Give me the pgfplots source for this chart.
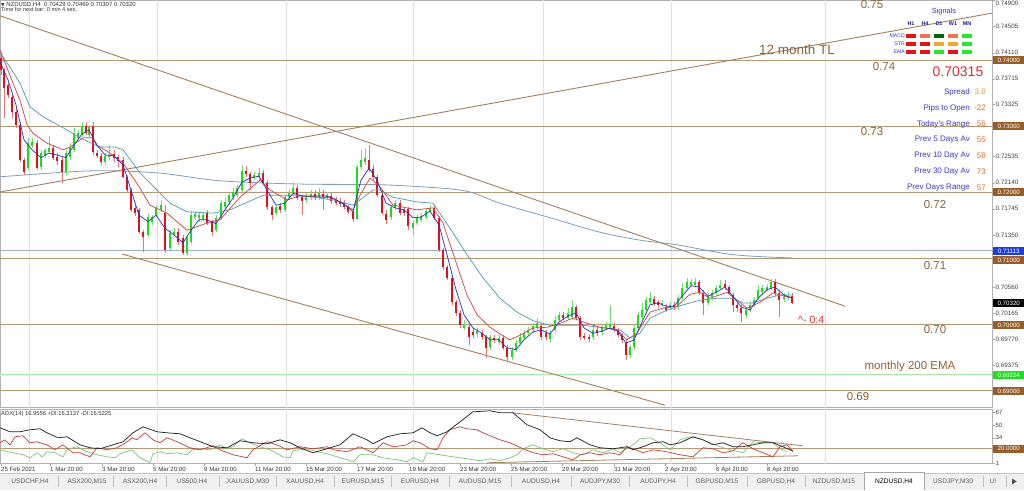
\documentclass[border=0pt]{standalone}
\usepackage{fontspec}
\setmainfont{Liberation Sans}
\newfontfamily\symfont{DejaVu Sans}
\usepackage{pgfplots}
\usepackage{pgfplotstable}
\pgfplotsset{compat=1.18}

\definecolor{bullc}{RGB}{25,222,25}
\definecolor{bearc}{RGB}{222,18,30}
\definecolor{bullw}{RGB}{120,220,120}
\definecolor{bearw}{RGB}{220,120,120}
\definecolor{tanl}{RGB}{182,152,118}
\definecolor{trendl}{RGB}{165,128,92}
\definecolor{lblbrown}{RGB}{140,98,58}
\definecolor{maRed}{RGB}{214,72,72}
\definecolor{maBlue}{RGB}{45,45,205}
\definecolor{maTeal}{RGB}{80,160,178}
\definecolor{maSlow}{RGB}{125,160,188}
\definecolor{gridc}{RGB}{226,226,226}
\definecolor{hblue}{RGB}{160,175,198}
\definecolor{infoBlue}{RGB}{58,58,200}
\definecolor{infoOrange}{RGB}{228,105,45}
\definecolor{infoGold}{RGB}{222,172,50}
\definecolor{infoRed}{RGB}{220,45,55}
\definecolor{boxBrown}{RGB}{150,92,42}
\definecolor{boxBlue}{RGB}{30,60,225}
\definecolor{boxGreen}{RGB}{30,225,30}
\definecolor{sigRed}{RGB}{228,20,20}
\definecolor{sigSalmon}{RGB}{240,115,80}
\definecolor{sigDark}{RGB}{0,105,0}
\definecolor{sigLime}{RGB}{40,230,40}
\definecolor{sigGold}{RGB}{240,170,40}
\definecolor{navy}{RGB}{25,25,140}
\definecolor{tabbg}{RGB}{240,240,240}
\definecolor{tabtxt}{RGB}{95,95,95}
\definecolor{adxRed}{RGB}{200,60,60}
\definecolor{adxGreen}{RGB}{120,200,120}
\definecolor{emaGreen}{RGB}{170,230,170}

\pgfplotstableread{
x o h l c
28 0.7236 0.7282 0.7233 0.7274
32 0.7270 0.7282 0.7267 0.7276
41 0.7238 0.7264 0.7233 0.7259
45 0.7256 0.7267 0.7252 0.7264
49 0.7261 0.7285 0.7258 0.7267
66 0.7230 0.7264 0.7226 0.7259
70 0.7253 0.7274 0.7248 0.7268
74 0.7264 0.7297 0.7261 0.7289
78 0.7282 0.7294 0.7279 0.7289
82 0.7286 0.7306 0.7283 0.7300
89 0.7286 0.7302 0.7283 0.7298
105 0.7245 0.7259 0.7241 0.7255
109 0.7253 0.7271 0.7248 0.7256
148 0.7135 0.7168 0.7132 0.7162
152 0.7155 0.7165 0.7150 0.7162
156 0.7165 0.7180 0.7162 0.7176
161 0.7173 0.7188 0.7170 0.7180
170 0.7115 0.7142 0.7112 0.7138
174 0.7136 0.7145 0.7133 0.7139
187 0.7108 0.7135 0.7105 0.7132
191 0.7124 0.7171 0.7121 0.7165
195 0.7162 0.7171 0.7158 0.7167
199 0.7161 0.7170 0.7155 0.7165
203 0.7159 0.7170 0.7155 0.7165
216 0.7142 0.7165 0.7139 0.7161
221 0.7161 0.7188 0.7158 0.7183
225 0.7177 0.7191 0.7173 0.7185
229 0.7185 0.7200 0.7180 0.7195
233 0.7192 0.7206 0.7188 0.7200
237 0.7195 0.7211 0.7192 0.7206
242 0.7203 0.7241 0.7200 0.7232
254 0.7221 0.7230 0.7218 0.7226
259 0.7223 0.7236 0.7218 0.7229
276 0.7168 0.7180 0.7165 0.7177
285 0.7173 0.7195 0.7170 0.7192
289 0.7192 0.7203 0.7188 0.7198
293 0.7198 0.7215 0.7195 0.7206
306 0.7188 0.7198 0.7183 0.7192
311 0.7192 0.7203 0.7188 0.7197
319 0.7192 0.7206 0.7188 0.7198
327 0.7192 0.7200 0.7188 0.7195
357 0.7159 0.7241 0.7158 0.7238
361 0.7238 0.7264 0.7233 0.7248
365 0.7245 0.7267 0.7241 0.7252
391 0.7162 0.7180 0.7158 0.7177
395 0.7176 0.7188 0.7173 0.7183
413 0.7145 0.7158 0.7135 0.7153
417 0.7153 0.7165 0.7150 0.7161
421 0.7158 0.7168 0.7155 0.7164
426 0.7162 0.7176 0.7159 0.7171
430 0.7171 0.7180 0.7168 0.7176
464 0.6994 0.7006 0.6991 0.6998
477 0.6985 0.6994 0.6980 0.6989
490 0.6965 0.6983 0.6961 0.6980
499 0.6973 0.6983 0.6968 0.6979
512 0.6950 0.6965 0.6945 0.6961
516 0.6961 0.6976 0.6958 0.6971
520 0.6971 0.6986 0.6968 0.6980
524 0.6979 0.6991 0.6976 0.6986
528 0.6986 0.6995 0.6983 0.6991
533 0.6991 0.7001 0.6986 0.6997
537 0.6994 0.7009 0.6991 0.7001
550 0.6977 0.6991 0.6973 0.6986
555 0.6991 0.7012 0.6988 0.7006
559 0.7006 0.7018 0.7003 0.7014
568 0.7009 0.7024 0.7006 0.7017
572 0.7011 0.7036 0.7006 0.7026
593 0.6980 0.6995 0.6976 0.6991
602 0.6988 0.6998 0.6983 0.6994
606 0.6994 0.7003 0.6991 0.6998
610 0.6995 0.7029 0.6992 0.7000
630 0.6953 0.6968 0.6948 0.6965
634 0.6965 0.6998 0.6961 0.6994
638 0.6994 0.7018 0.6991 0.7014
642 0.7011 0.7032 0.7006 0.7021
646 0.7021 0.7041 0.7018 0.7036
650 0.7033 0.7048 0.7030 0.7039
662 0.7029 0.7036 0.7026 0.7032
670 0.7024 0.7033 0.7021 0.7029
678 0.7026 0.7044 0.7021 0.7039
682 0.7039 0.7062 0.7036 0.7055
687 0.7055 0.7070 0.7052 0.7064
691 0.7059 0.7068 0.7056 0.7064
695 0.7059 0.7070 0.7056 0.7064
708 0.7032 0.7047 0.7029 0.7041
712 0.7041 0.7052 0.7036 0.7047
716 0.7047 0.7059 0.7044 0.7055
720 0.7055 0.7067 0.7052 0.7059
746 0.7014 0.7026 0.7009 0.7021
750 0.7021 0.7033 0.7018 0.7029
754 0.7029 0.7041 0.7026 0.7036
758 0.7039 0.7059 0.7036 0.7052
762 0.7048 0.7059 0.7044 0.7055
767 0.7052 0.7061 0.7048 0.7056
771 0.7055 0.7068 0.7052 0.7064
784 0.7038 0.7047 0.7033 0.7041
788 0.7039 0.7048 0.7036 0.7042
}\bull

\pgfplotstableread{
x o h l c
1 0.7403 0.7408 0.7377 0.7385
4 0.7385 0.7388 0.7312 0.7358
8 0.7362 0.7367 0.7342 0.7347
12 0.7344 0.7347 0.7312 0.7321
16 0.7321 0.7327 0.7297 0.7302
20 0.7302 0.7306 0.7245 0.7248
24 0.7248 0.7252 0.7226 0.7230
37 0.7274 0.7279 0.7233 0.7236
53 0.7267 0.7271 0.7248 0.7252
57 0.7253 0.7259 0.7241 0.7247
62 0.7248 0.7253 0.7214 0.7230
86 0.7300 0.7306 0.7286 0.7289
93 0.7300 0.7306 0.7256 0.7261
97 0.7259 0.7264 0.7252 0.7255
101 0.7255 0.7259 0.7241 0.7245
114 0.7258 0.7264 0.7245 0.7252
118 0.7253 0.7256 0.7238 0.7247
123 0.7248 0.7253 0.7221 0.7223
127 0.7223 0.7226 0.7198 0.7203
131 0.7203 0.7206 0.7170 0.7173
135 0.7176 0.7180 0.7164 0.7168
139 0.7173 0.7176 0.7136 0.7139
143 0.7139 0.7142 0.7109 0.7132
165 0.7168 0.7180 0.7108 0.7112
178 0.7139 0.7145 0.7120 0.7124
183 0.7130 0.7135 0.7105 0.7108
207 0.7168 0.7173 0.7150 0.7153
212 0.7155 0.7158 0.7133 0.7139
246 0.7232 0.7239 0.7223 0.7227
250 0.7227 0.7230 0.7203 0.7214
263 0.7229 0.7233 0.7211 0.7214
267 0.7214 0.7218 0.7173 0.7177
272 0.7177 0.7180 0.7158 0.7165
280 0.7179 0.7183 0.7168 0.7173
297 0.7206 0.7211 0.7188 0.7191
302 0.7192 0.7195 0.7165 0.7186
315 0.7197 0.7203 0.7188 0.7192
323 0.7197 0.7203 0.7173 0.7192
331 0.7194 0.7198 0.7182 0.7186
336 0.7188 0.7192 0.7180 0.7183
340 0.7186 0.7191 0.7177 0.7182
344 0.7183 0.7188 0.7174 0.7177
348 0.7177 0.7180 0.7167 0.7170
353 0.7170 0.7173 0.7155 0.7159
369 0.7248 0.7271 0.7230 0.7233
373 0.7235 0.7241 0.7218 0.7223
377 0.7223 0.7226 0.7192 0.7195
382 0.7195 0.7198 0.7165 0.7168
386 0.7167 0.7173 0.7152 0.7158
400 0.7183 0.7188 0.7165 0.7168
404 0.7173 0.7177 0.7164 0.7168
408 0.7174 0.7177 0.7142 0.7148
434 0.7176 0.7180 0.7158 0.7161
439 0.7161 0.7164 0.7109 0.7112
443 0.7112 0.7115 0.7082 0.7086
447 0.7086 0.7089 0.7067 0.7070
452 0.7070 0.7073 0.7029 0.7033
456 0.7033 0.7036 0.7012 0.7017
460 0.7017 0.7021 0.6994 0.6998
469 0.6995 0.7001 0.6968 0.6980
473 0.6988 0.6994 0.6979 0.6983
482 0.6986 0.6991 0.6976 0.6980
486 0.6980 0.6983 0.6948 0.6964
494 0.6979 0.6983 0.6971 0.6976
503 0.6979 0.6983 0.6961 0.6964
507 0.6964 0.6968 0.6942 0.6950
541 0.6997 0.7001 0.6976 0.6980
546 0.6986 0.6991 0.6976 0.6980
563 0.7014 0.7018 0.7006 0.7009
576 0.7026 0.7029 0.7006 0.7009
580 0.7009 0.7012 0.6976 0.6980
584 0.6982 0.6986 0.6976 0.6979
589 0.6980 0.6983 0.6973 0.6977
597 0.6991 0.6995 0.6982 0.6986
614 0.6997 0.7001 0.6988 0.6991
618 0.6991 0.6994 0.6979 0.6983
622 0.6983 0.6986 0.6971 0.6976
626 0.6971 0.6976 0.6945 0.6953
654 0.7038 0.7042 0.7027 0.7030
658 0.7033 0.7036 0.7024 0.7029
666 0.7026 0.7030 0.7018 0.7021
674 0.7029 0.7033 0.7021 0.7026
699 0.7064 0.7067 0.7044 0.7047
703 0.7047 0.7052 0.7014 0.7032
725 0.7061 0.7067 0.7052 0.7056
729 0.7056 0.7059 0.7044 0.7047
733 0.7044 0.7047 0.7018 0.7029
737 0.7029 0.7033 0.7018 0.7024
741 0.7024 0.7029 0.7003 0.7017
775 0.7064 0.7068 0.7042 0.7047
779 0.7047 0.7052 0.7011 0.7036
792 0.70429 0.70469 0.70307 0.70320
}\bear

\tikzset{pbox/.style={anchor=west, inner xsep=1.5pt, inner ysep=0pt, minimum height=8pt, minimum width=31pt, font=\fontsize{6.2}{7}\selectfont, text=white}}

\begin{document}
\begin{tikzpicture}
\begin{scope}[x=1pt,y=1pt]
\fill[white] (0,0) rectangle (1024,490);
\fill[tabbg] (0,0) rectangle (1024,17);
\draw[gray!45] (0,17) -- (1024,17);
\end{scope}

% ---------------- main price panel ----------------
\begin{axis}[
  at={(0pt,83pt)}, anchor=south west,
  width=992pt, height=407pt, scale only axis,
  xmin=0, xmax=992, ymin=0.687424, ymax=0.749091,
  axis line style={draw=gray!60, line width=0.5pt},
  xtick=\empty,
  ytick={0.74505,0.7411,0.73715,0.73325,0.72535,0.7214,0.71745,0.7135,0.7056,0.70165,0.6977,0.69375},
  yticklabels={0.74505,0.74110,0.73715,0.73325,0.72535,0.72140,0.71745,0.71350,0.70560,0.70165,0.69770,0.69375},
  extra y ticks={0.749}, extra y tick labels={0.74900},
  extra y tick style={yticklabel style={yshift=-2.5pt}},
  ytick pos=right, yticklabel pos=right,
  tick align=outside, major tick length=2.5pt,
  tick style={draw=gray!70, line width=0.4pt},
  yticklabel style={font=\fontsize{6.3}{7}\selectfont, text=black!75, inner xsep=1pt},
  scaled y ticks=false,
]
\pgfplotsinvokeforeach{29,157,286,413,543,671,825}{
  \addplot[gridc, line width=0.6pt, forget plot] coordinates {(#1,0.68) (#1,0.76)};
}
\pgfplotsinvokeforeach{0.74,0.73,0.72,0.71,0.70,0.69}{
  \addplot[tanl, line width=0.9pt, forget plot] coordinates {(0,#1) (992,#1)};
}
\addplot[hblue, line width=0.55pt] coordinates {(0,0.71113) (992,0.71113)};
\addplot[emaGreen, double=green!6, double distance=1.1pt, line width=0.5pt] coordinates {(0,0.69224) (992,0.69224)};

% slow moving average
\addplot[maSlow, line width=0.8pt, smooth, tension=0.5] coordinates {
(0,0.7223)(90,0.7232)(157,0.7229)(220,0.7217)(300,0.7212)(380,0.7211)(440,0.7206)(470,0.7200)(500,0.7183)(550,0.7161)(600,0.7139)(640,0.7127)(677,0.7120)(733,0.7105)(793,0.7100)};

% trend lines
\addplot[trendl, line width=0.9pt] coordinates {(0,0.7467)(845,0.7027)};
\addplot[trendl, line width=0.9pt] coordinates {(0,0.7200)(992,0.7471)};
\addplot[trendl, line width=0.9pt] coordinates {(122,0.7106)(665,0.6877)};

% candles: wicks
\addplot[draw=none, mark=none, forget plot, error bars/.cd, y dir=plus, y explicit, error mark=none,
  error bar style={draw=bullw, line width=0.9pt}]
  table[x=x, y=l, y error expr=\thisrow{h}-\thisrow{l}] {\bull};
\addplot[draw=none, mark=none, forget plot, error bars/.cd, y dir=plus, y explicit, error mark=none,
  error bar style={draw=bearw, line width=0.9pt}]
  table[x=x, y=l, y error expr=\thisrow{h}-\thisrow{l}] {\bear};
% candles: bodies
\addplot[draw=none, mark=none, forget plot, error bars/.cd, y dir=plus, y explicit, error mark=none,
  error bar style={draw=bullc, line width=2.8pt}]
  table[x=x, y=o, y error expr=\thisrow{c}-\thisrow{o}] {\bull};
\addplot[draw=none, mark=none, forget plot, error bars/.cd, y dir=plus, y explicit, error mark=none,
  error bar style={draw=bearc, line width=2.8pt}]
  table[x=x, y=c, y error expr=\thisrow{o}-\thisrow{c}] {\bear};

% medium MA (teal)
\addplot[maTeal, line width=0.75pt] coordinates {
(0,0.7411)(10,0.7389)(20,0.7365)(30,0.7329)(43,0.7314)(67,0.7294)(80,0.7282)(100,0.7268)(115,0.7268)(123,0.7264)(140,0.7229)(157,0.7203)(170,0.7183)(187,0.7170)(213,0.7168)(230,0.7173)(263,0.7195)(300,0.7195)(333,0.7188)(353,0.7180)(360,0.7188)(373,0.7203)(380,0.7203)(393,0.7192)(417,0.7185)(433,0.7183)(450,0.7145)(467,0.7105)(483,0.7070)(500,0.7039)(517,0.7018)(533,0.7005)(550,0.6998)(567,0.6998)(583,0.6998)(600,0.6995)(620,0.6991)(630,0.6979)(640,0.6986)(650,0.7009)(667,0.7021)(683,0.7029)(700,0.7036)(717,0.7039)(733,0.7039)(743,0.7032)(753,0.7032)(767,0.7039)(780,0.7044)(793,0.7044)};
% red MA
\addplot[maRed, line width=0.75pt] coordinates {
(0,0.7415)(13,0.7365)(20,0.7339)(27,0.7302)(33,0.7289)(47,0.7274)(63,0.7264)(70,0.7268)(83,0.7282)(92,0.7282)(97,0.7271)(110,0.7259)(123,0.7244)(140,0.7206)(150,0.7180)(167,0.7168)(187,0.7142)(207,0.7153)(220,0.7158)(240,0.7192)(260,0.7218)(270,0.7203)(287,0.7188)(300,0.7194)(333,0.7191)(353,0.7173)(360,0.7195)(370,0.7221)(380,0.7208)(393,0.7180)(417,0.7173)(433,0.7176)(443,0.7153)(457,0.7089)(467,0.7044)(477,0.7014)(490,0.6995)(503,0.6982)(510,0.6976)(520,0.6983)(533,0.6994)(547,0.6995)(560,0.7001)(573,0.7009)(587,0.7001)(600,0.6995)(617,0.6991)(627,0.6976)(637,0.6986)(650,0.7018)(663,0.7024)(677,0.7027)(690,0.7045)(700,0.7048)(710,0.7039)(727,0.7048)(737,0.7036)(747,0.7024)(760,0.7033)(773,0.7047)(787,0.7041)(793,0.7041)};
% fast MA (blue)
\addplot[maBlue, line width=0.7pt] coordinates {
(0,0.7397)(8,0.7370)(16,0.7332)(24,0.7279)(32,0.7264)(41,0.7252)(49,0.7259)(57,0.7256)(66,0.7252)(74,0.7271)(82,0.7288)(89,0.7294)(97,0.7271)(105,0.7256)(114,0.7255)(123,0.7241)(131,0.7203)(139,0.7165)(148,0.7155)(156,0.7165)(165,0.7145)(174,0.7135)(183,0.7123)(191,0.7142)(199,0.7158)(207,0.7158)(216,0.7152)(225,0.7173)(233,0.7191)(242,0.7215)(250,0.7221)(259,0.7224)(267,0.7203)(276,0.7180)(285,0.7183)(293,0.7198)(302,0.7194)(311,0.7194)(319,0.7194)(327,0.7194)(336,0.7188)(344,0.7182)(353,0.7170)(357,0.7195)(361,0.7218)(369,0.7236)(377,0.7218)(386,0.7183)(395,0.7176)(404,0.7173)(413,0.7161)(421,0.7162)(430,0.7171)(439,0.7150)(447,0.7105)(456,0.7052)(464,0.7014)(473,0.6994)(482,0.6986)(490,0.6976)(499,0.6976)(507,0.6964)(516,0.6961)(524,0.6976)(533,0.6988)(541,0.6991)(550,0.6985)(559,0.7003)(568,0.7012)(576,0.7017)(584,0.6994)(593,0.6986)(602,0.6989)(610,0.6994)(618,0.6989)(626,0.6971)(634,0.6976)(642,0.7003)(650,0.7029)(658,0.7032)(666,0.7027)(674,0.7027)(682,0.7042)(691,0.7058)(699,0.7056)(708,0.7042)(716,0.7048)(725,0.7056)(733,0.7042)(741,0.7026)(750,0.7021)(758,0.7039)(767,0.7052)(775,0.7056)(784,0.7044)(792,0.7039)};
\end{axis}

% ---------------- ADX panel ----------------
\begin{axis}[
  at={(0pt,26.4pt)}, anchor=south west,
  width=992pt, height=54.6pt, scale only axis,
  xmin=0, xmax=992, ymin=1, ymax=71,
  axis line style={draw=gray!60, line width=0.5pt},
  xtick={1,50,102,153,204,255,306,357,409,460,511,562,614,665,716,767},
  xticklabels={25 Feb 2021,1 Mar 20:00,3 Mar 20:00,5 Mar 20:00,9 Mar 20:00,11 Mar 20:00,15 Mar 20:00,17 Mar 20:00,19 Mar 20:00,23 Mar 20:00,25 Mar 20:00,29 Mar 20:00,31 Mar 20:00,2 Apr 20:00,6 Apr 20:00,8 Apr 20:00},
  xtick pos=bottom,
  xticklabel style={font=\fontsize{6.1}{7}\selectfont, text=black!80, anchor=north west, inner sep=1pt, xshift=-1pt},
  ytick={1,34,50,67}, yticklabels={1,34,50,67},
  ytick pos=right, yticklabel pos=right,
  yticklabel style={font=\fontsize{6}{7}\selectfont, text=black!75, inner xsep=1pt},
  tick align=outside, major tick length=2.5pt,
  tick style={draw=gray!70, line width=0.4pt},
]
\pgfplotsinvokeforeach{29,157,286,413,543,671,825}{
  \addplot[gridc, line width=0.6pt, forget plot] coordinates {(#1,0) (#1,80)};
}
\addplot[tanl, line width=0.9pt] coordinates {(0,20)(992,20)};
\addplot[trendl, line width=0.8pt] coordinates {(512,66.2)(803,23.8)};
\addplot[trendl, line width=0.8pt] coordinates {(487,2.1)(798,11.0)};
% +DI
\addplot[adxGreen, line width=0.7pt] coordinates {
(0,18.7)(13,14.9)(23,12.3)(30,8.5)(37,14.9)(42,9.7)(47,16.2)(55,14.9)(63,9.7)(68,20)(77,22.6)(87,16.2)(97,12.3)(107,9.7)(115,8.5)(120,13.6)(132,18.7)(140,8.5)(150,2.1)(153,13.6)(160,16.2)(168,13.6)(177,14.9)(187,12.3)(192,18.7)(200,20)(210,18.7)(220,25.1)(227,20)(233,22.6)(242,32.8)(250,27.7)(260,22.6)(270,18.7)(283,9.7)(290,8.5)(293,17.4)(307,20)(317,16.2)(327,13.6)(337,9.7)(347,5.9)(353,3.3)(360,12.3)(373,12.3)(383,8.5)(397,5.9)(407,3.3)(413,8.5)(423,3.3)(427,14.9)(440,12.3)(453,9.7)(467,7.2)(480,4.6)(490,7.2)(500,4.6)(510,8.5)(517,12.3)(523,20)(533,25.1)(543,20)(553,16.2)(563,20)(573,14.9)(583,12.3)(593,18.7)(603,14.9)(613,20)(620,14.9)(633,25.1)(640,32.8)(650,34.1)(660,27.7)(670,18.7)(680,31.5)(690,35.4)(700,32.8)(710,27.7)(720,22.6)(730,18.7)(743,14.9)(753,29)(763,27.7)(773,27.7)(780,20)(787,16.3)};
% -DI
\addplot[adxRed, line width=0.7pt] coordinates {
(0,27.7)(5,31.5)(10,25.1)(15,35.4)(23,36.7)(30,27.7)(37,29)(47,25.1)(55,18.7)(63,25.1)(73,14.9)(80,14.9)(90,9.7)(97,21.3)(107,18.7)(117,21.3)(127,29)(132,34.1)(137,31.5)(145,40.5)(153,31.5)(160,27.7)(167,34.1)(177,29)(190,21.3)(200,18.7)(213,23.8)(220,18.7)(233,12.3)(247,8.5)(253,18.7)(267,29)(277,25.1)(287,18.7)(300,22.6)(313,20)(327,22.6)(333,18.7)(347,16.2)(360,22.6)(367,18.7)(373,14.9)(383,27.7)(393,22.6)(400,23.8)(407,25.1)(413,30.3)(420,27.7)(430,20)(437,18.7)(443,34.1)(450,44.4)(460,48.2)(467,45.6)(477,44.4)(483,40.5)(490,36.7)(500,31.5)(510,27.7)(523,20)(533,14.9)(543,12.3)(553,13.6)(563,9.7)(573,5.9)(580,12.3)(590,14.9)(600,12.3)(610,14.9)(620,12.3)(627,22.6)(633,20)(643,14.9)(653,18.7)(667,16.2)(680,12.3)(693,9.7)(703,21.3)(713,20)(723,14.9)(733,17.4)(743,27.7)(753,20)(763,14.9)(773,9.7)(780,22.6)(787,25.1)(793,16.5)};
% ADX
\addplot[black!85, line width=0.75pt] coordinates {
(0,46.9)(10,41.8)(20,41.8)(30,44.4)(40,45.6)(47,40.5)(58,34.1)(67,35.4)(80,25.1)(90,21.3)(100,20)(113,25.1)(123,29)(133,40.5)(143,48.2)(157,41.8)(167,40.5)(180,39.2)(190,34.1)(203,27.7)(213,22.6)(227,21.3)(240,30.3)(253,27.7)(267,26.4)(280,31.5)(290,27.7)(300,21.3)(313,14.9)(327,20)(340,25.1)(353,39.2)(367,31.5)(373,26.4)(387,35.4)(400,39.2)(413,40.5)(422,46.9)(430,40.5)(437,36.7)(447,41.8)(460,54.6)(473,67.4)(490,68.7)(500,66.2)(513,66.2)(527,50.8)(540,44.4)(550,34.1)(560,30.3)(570,29)(577,34.1)(590,25.1)(600,21.3)(613,20)(627,22.6)(633,18.7)(643,22.6)(653,27.7)(663,29)(670,25.1)(680,27.7)(693,35.4)(703,31.5)(713,25.1)(723,27.7)(733,22.6)(743,22.6)(753,25.1)(763,27.7)(773,27.7)(783,22.6)(793,16.9)};
\end{axis}

\begin{scope}[x=1pt,y=1pt]
% header texts
\node[anchor=west, inner sep=0pt, font=\fontsize{6}{7}\selectfont, text=black!80] at (1,485.5) {{\symfont\fontsize{4.5}{5}\selectfont ▼}\ NZDUSD,H4\ \ 0.70429 0.70469 0.70307 0.70320};
\node[anchor=west, inner sep=0pt, font=\fontsize{5.6}{6}\selectfont, text=black!80] at (1,480.5) {Time for next bar: 0 min 4 sec.};
\node[anchor=west, inner sep=0pt, font=\fontsize{5.8}{7}\selectfont, text=black!80] at (1,76) {ADX(14) 16.9556 +DI:16.3137 -DI:16.5225};

% chart annotations
\node[text=lblbrown, font=\fontsize{11.5}{13}\selectfont, inner sep=0pt, anchor=north] at (872,489.5) {0.75};
\node[text=lblbrown, font=\fontsize{11.5}{13}\selectfont] at (884,423) {0.74};
\node[text=lblbrown, font=\fontsize{11.5}{13}\selectfont] at (872,358) {0.73};
\node[text=lblbrown, font=\fontsize{11.5}{13}\selectfont] at (935,285) {0.72};
\node[text=lblbrown, font=\fontsize{11.5}{13}\selectfont] at (935,224) {0.71};
\node[text=lblbrown, font=\fontsize{11.5}{13}\selectfont] at (935,160) {0.70};
\node[text=lblbrown, font=\fontsize{11.5}{13}\selectfont] at (858,93) {0.69};
\node[text=lblbrown, font=\fontsize{11.5}{13}\selectfont] at (910,123) {monthly 200 EMA};
\node[text=lblbrown, font=\fontsize{13.5}{15}\selectfont] at (797,440) {12 month TL};
\node[anchor=west, inner sep=0pt, text=infoRed, font=\fontsize{10.5}{12}\selectfont] at (798,170) {\textasciicircum- 0:4};

% info panel
\node[text=infoRed, font=\fontsize{14}{16}\selectfont] at (958,418) {0.70315};
\foreach \yy/\lab/\val/\vc in {398/Spread/3.8/infoGold, 382/Pips to Open/-22/infoOrange, 366/Today's Range/56/infoOrange, 350/Prev 5 Days Av/55/infoOrange, 334/Prev 10 Day Av/58/infoOrange, 318/Prev 30 Day Av/73/infoOrange, 302/Prev Days Range/57/infoOrange}{
  \node[anchor=east, inner sep=0pt, text=infoBlue, font=\fontsize{8}{9}\selectfont] at (970,\yy) {\lab};
  \node[anchor=east, inner sep=0pt, text=\vc, font=\fontsize{8}{9}\selectfont] at (986,\yy) {\val};
}
% signals
\node[text=infoBlue, font=\fontsize{7.4}{8}\selectfont] at (944,478) {Signals};
\foreach \xx/\lab in {911/H1,925/H4,939/D1,953/W1,967/MN}{
  \node[text=navy, font=\fontsize{5.4}{6}\selectfont\bfseries] at (\xx,466) {\lab};
}
\node[anchor=east, inner sep=0pt, text=infoBlue, font=\fontsize{5.2}{6}\selectfont] at (905,454) {MACD};
\node[anchor=east, inner sep=0pt, text=infoBlue, font=\fontsize{5.2}{6}\selectfont] at (905,446) {STR};
\node[anchor=east, inner sep=0pt, text=infoBlue, font=\fontsize{5.2}{6}\selectfont] at (905,438) {EMA};
\foreach \xx/\ca/\cb/\cc in {911/sigRed/sigRed/sigRed, 925/sigSalmon/sigRed/sigRed, 939/sigDark/sigGold/sigLime, 953/sigSalmon/sigGold/sigRed, 967/sigLime/sigLime/sigLime}{
  \fill[\ca] (\xx-5,452.3) rectangle (\xx+5,455.7);
  \fill[\cb] (\xx-5,444.3) rectangle (\xx+5,447.7);
  \fill[\cc] (\xx-5,436.3) rectangle (\xx+5,439.7);
}

% price boxes
\node[pbox, fill=boxBrown] at (993,430) {0.74000};
\node[pbox, fill=boxBrown] at (993,364) {0.73000};
\node[pbox, fill=boxBrown] at (993,298) {0.72000};
\node[pbox, fill=boxBlue] at (993,238.5) {0.71113};
\node[pbox, fill=boxBrown] at (993,230) {0.71000};
\node[pbox, fill=black] at (993,187.1) {0.70320};
\node[pbox, fill=boxBrown] at (993,165) {0.70000};
\node[pbox, fill=boxGreen] at (993,114.8) {0.69224};
\node[pbox, fill=boxBrown] at (993,99) {0.69000};
\node[pbox, fill=boxBrown] at (993,41.5) {20.0000};

% tab bar
\fill[white] (864,0) rectangle (924,17.5);
\draw[gray!70] (864,0) -- (864,17.5) -- (924,17.5) -- (924,0);
\foreach \xx in {58,113,166,219,276,334,391,449,511,571,629,687,747,805,983,1006}{
  \draw[gray!50] (\xx,3) -- (\xx,14);
}
\foreach \xx/\lab in {30/{USDCHF,H4},87/{ASX200,M15},140/{ASX200,H4},192/{US500,H4},248/{XAUUSD,M30},305/{XAUUSD,H4},363/{EURUSD,M15},420/{EURUSD,H4},480/{AUDUSD,M15},541/{AUDUSD,H4},600/{AUDJPY,M30},658/{AUDJPY,H4},717/{GBPUSD,M15},776/{GBPUSD,H4},834/{NZDUSD,M15},953/{USDJPY,M30},993/{U!}}{
  \node[text=tabtxt, font=\fontsize{6.6}{7}\selectfont] at (\xx,8.5) {\lab};
}
\node[text=black, font=\fontsize{6.6}{7}\selectfont] at (894,8.5) {NZDUSD,H4};
\fill[black!70] (1012,5.5) -- (1012,11.5) -- (1016.5,8.5) -- cycle;
\end{scope}

\pgfresetboundingbox
\path[use as bounding box] (0pt,0pt) rectangle (1024pt,490pt);
\end{tikzpicture}
\end{document}
